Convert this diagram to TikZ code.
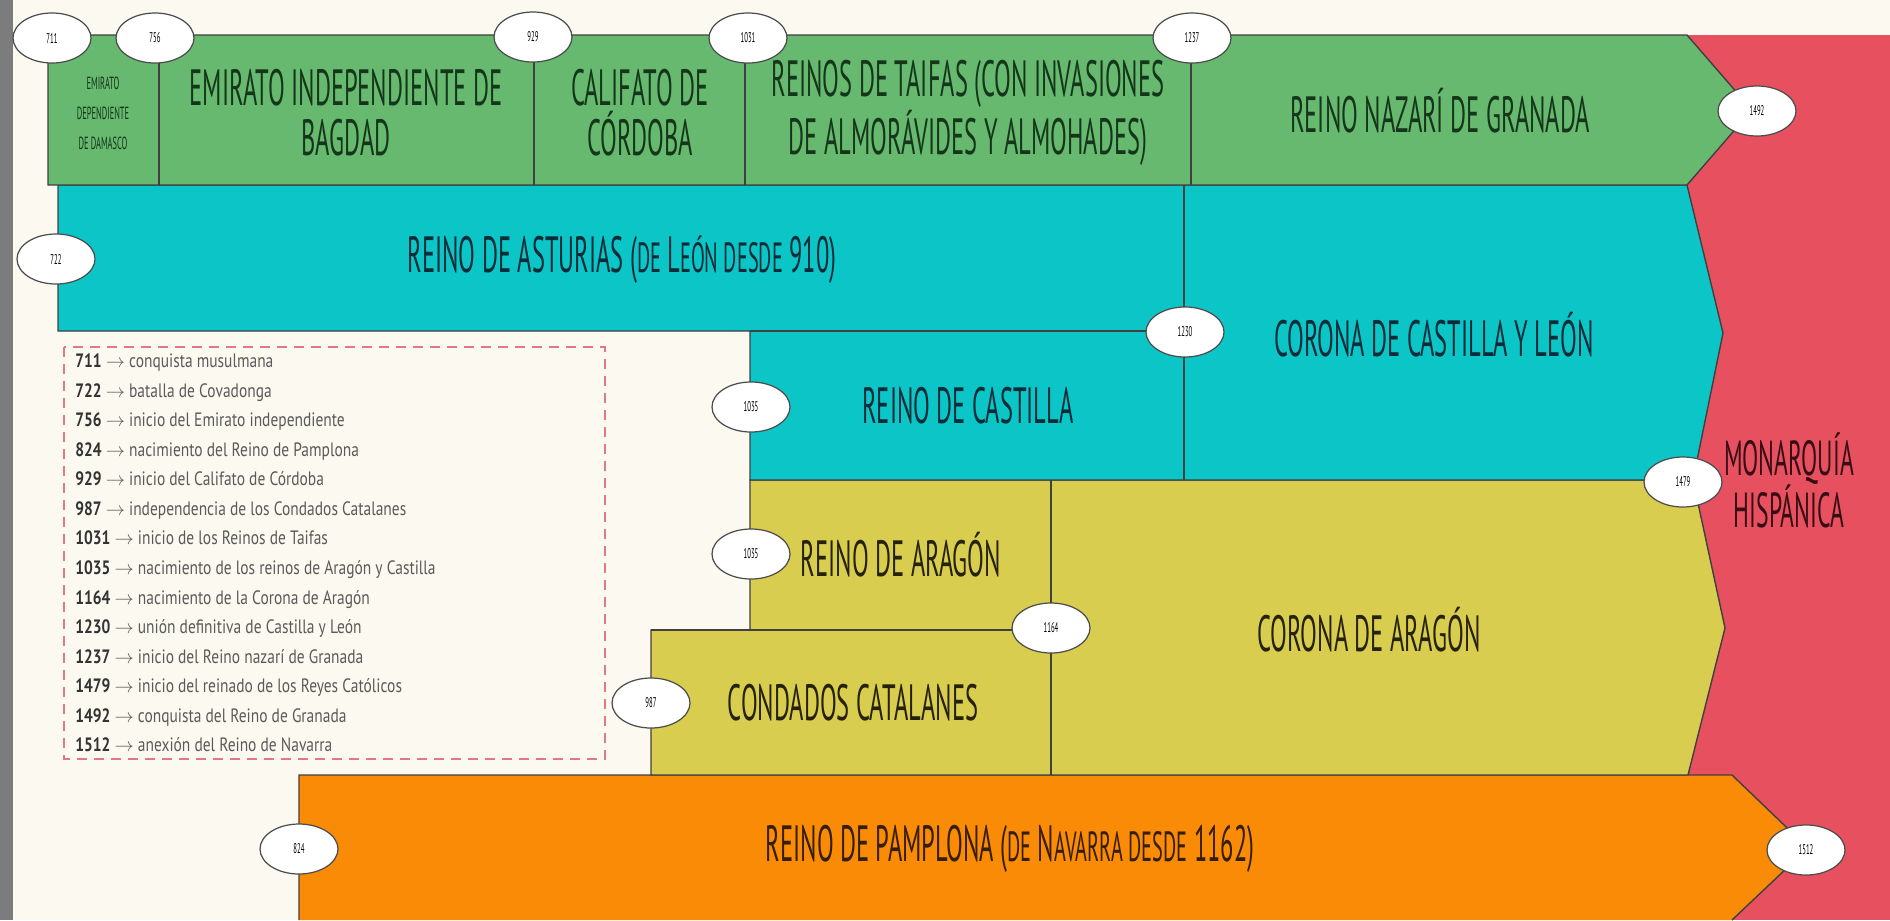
\documentclass[tikz,border=0pt]{standalone}
\usepackage{fontspec}
\usepackage{tikz}
\usetikzlibrary{shapes.geometric}

\newfontfamily\hand[FakeStretch=0.48]{PT Sans}
\newfontfamily\notes[FakeStretch=0.8]{PT Sans}

\definecolor{cream}{HTML}{FCF9F0}
\definecolor{sidegray}{HTML}{7C7C7C}
\definecolor{alandalus}{HTML}{66B96F}
\definecolor{leon}{HTML}{0BC5C7}
\definecolor{aragon}{HTML}{D8CD4E}
\definecolor{navarra}{HTML}{F98B06}
\definecolor{monarquia}{HTML}{E7505F}
\definecolor{dashpink}{HTML}{DE7A86}
\definecolor{inkgreen}{HTML}{15361A}
\definecolor{inkteal}{HTML}{0A2C38}
\definecolor{inkolive}{HTML}{26220A}
\definecolor{inkbrown}{HTML}{361E03}
\definecolor{inkred}{HTML}{370D15}
\definecolor{notegray}{HTML}{5A5A5A}

\newcommand{\smc}[1]{{\fontsize{24}{26}\selectfont #1}}
\newcommand{\ev}[2]{{\bfseries\color{black!80}#1} {\color{notegray}$\rightarrow$ #2}}

\begin{document}
\begin{tikzpicture}[x=0.02cm, y=-0.02cm]
	\tikzstyle{Band}	= [draw=black!75, line width=0.8pt, line join=miter]
	\tikzstyle{Split}	= [black!75, line width=0.8pt]
	\tikzstyle{Year}	= [ellipse, draw=black!70, line width=0.7pt, fill=white, minimum width=1.56cm, minimum height=1cm, inner sep=0pt, font=\hand\fontsize{8}{9}\selectfont]
	\tikzstyle{Title}	= [align=center, font=\hand\fontsize{29}{28.5}\selectfont]
	\tikzstyle{Caliph}	= [Title, inkgreen]

	\useasboundingbox (0,0) rectangle (1890,920);
	\fill [cream] (0,0) rectangle (1890,920);
	\fill [sidegray] (0,0) rectangle (13,920);
	\fill [monarquia] (1680,35) rectangle (1890,920);

	\draw [Band, fill=navarra] (299,920) -- (299,775) -- (1732,775) -- (1808,848) -- (1732,920);
	\draw [Band, fill=aragon] (651,775) -- (651,630) -- (750,630) -- (750,480) -- (1693,480) -- (1725,628) -- (1688,775) -- cycle;
	\draw [Band, fill=leon] (58,185) -- (1687,185) -- (1723,333) -- (1693,480) -- (750,480) -- (750,331) -- (58,331) -- cycle;
	\draw [Band, fill=alandalus] (48,35) -- (1687,35) -- (1752,110) -- (1687,185) -- (48,185) -- cycle;

	\draw [Split] (159,35) -- (159,185);
	\draw [Split] (534,35) -- (534,185);
	\draw [Split] (745,35) -- (745,185);
	\draw [Split] (1191,35) -- (1191,185);
	\draw [Split] (750,331) -- (1184,331);
	\draw [Split] (1184,185) -- (1184,480);
	\draw [Split] (651,630) -- (1051,630);
	\draw [Split] (1051,480) -- (1051,775);

	\node (damasco) at (103,113) [align=center, inkgreen, font=\hand\fontsize{10}{17}\selectfont] {EMIRATO\\DEPENDIENTE\\DE DAMASCO};
	\node (bagdad) at (346,113) [Caliph] {EMIRATO INDEPENDIENTE DE\\BAGDAD};
	\node (cordoba) at (640,113) [Caliph] {CALIFATO DE\\CÓRDOBA};
	\node (taifas) at (968,113) [Caliph] {REINOS DE TAIFAS (CON INVASIONES\\DE ALMORÁVIDES Y ALMOHADES)};
	\node (nazari) at (1440,111) [Caliph] {REINO NAZARÍ DE GRANADA};

	\node (asturias) at (622,260) [Title, inkteal] {REINO DE ASTURIAS (\smc{DE} L\smc{EÓN DESDE} 910)};
	\node (castleon) at (1434,335) [Title, inkteal] {CORONA DE CASTILLA Y LEÓN};
	\node (castilla) at (968,406) [Title, inkteal] {REINO DE CASTILLA};
	\node (reinoar) at (901,555) [Title, inkolive] {REINO DE ARAGÓN};
	\node (coronaar) at (1369,630) [Title, inkolive] {CORONA DE ARAGÓN};
	\node (condados) at (853,703) [Title, inkolive] {CONDADOS CATALANES};
	\node (pamplona) at (1010,849) [Title, inkbrown] {REINO DE PAMPLONA (\smc{DE} N\smc{AVARRA DESDE} 1162)};
	\node (hispanica) at (1789,480) [Title, inkred, font=\hand\fontsize{28}{29.5}\selectfont] {MONARQUÍA\\HISPÁNICA};

	\node (y711) at (52,38) [Year] {711};
	\node (y756) at (155,38) [Year] {756};
	\node (y929) at (533,37) [Year] {929};
	\node (y1031) at (748,38) [Year] {1031};
	\node (y1237) at (1192,38) [Year] {1237};
	\node (y1492) at (1757,111) [Year] {1492};
	\node (y722) at (56,259) [Year] {722};
	\node (y1230) at (1185,332) [Year] {1230};
	\node (y1035c) at (751,407) [Year] {1035};
	\node (y1035a) at (751,554) [Year] {1035};
	\node (y1164) at (1051,628) [Year] {1164};
	\node (y987) at (651,703) [Year] {987};
	\node (y1479) at (1683,482) [Year] {1479};
	\node (y1512) at (1806,850) [Year] {1512};
	\node (y824) at (299,849) [Year] {824};

	\draw [dashpink, line width=0.9pt, dash pattern=on 0.2cm off 0.14cm] (64,347) rectangle (605,759);
	\node (legend) at (75,553) [anchor=west, align=left, inner sep=0pt, font=\notes\fontsize{11}{16.8}\selectfont] {%
		\ev{711}{conquista musulmana}\\
		\ev{722}{batalla de Covadonga}\\
		\ev{756}{inicio del Emirato independiente}\\
		\ev{824}{nacimiento del Reino de Pamplona}\\
		\ev{929}{inicio del Califato de Córdoba}\\
		\ev{987}{independencia de los Condados Catalanes}\\
		\ev{1031}{inicio de los Reinos de Taifas}\\
		\ev{1035}{nacimiento de los reinos de Aragón y Castilla}\\
		\ev{1164}{nacimiento de la Corona de Aragón}\\
		\ev{1230}{unión definitiva de Castilla y León}\\
		\ev{1237}{inicio del Reino nazarí de Granada}\\
		\ev{1479}{inicio del reinado de los Reyes Católicos}\\
		\ev{1492}{conquista del Reino de Granada}\\
		\ev{1512}{anexión del Reino de Navarra}};
\end{tikzpicture}
\end{document}
